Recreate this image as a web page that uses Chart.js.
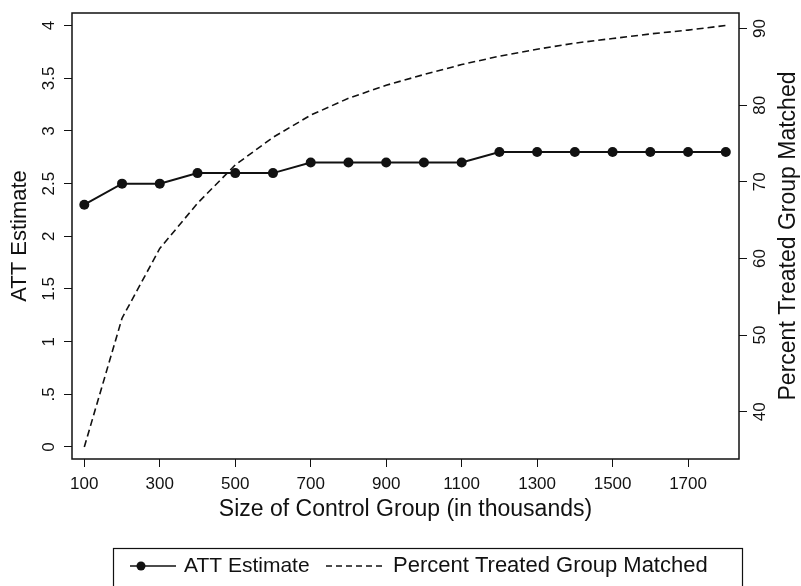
<!DOCTYPE html>
<html>
<head>
<meta charset="utf-8">
<script src="https://cdn.jsdelivr.net/npm/chart.js@4"></script>
<style>
  html, body { margin: 0; padding: 0; background: #fff; }
  canvas { display: block; }
</style>
</head>
<body>
<canvas id="canvas" width="801" height="586"></canvas>
<script>
// control group size in thousands
const sizes = [100, 200, 300, 400, 500, 600, 700, 800, 900, 1000, 1100, 1200, 1300, 1400, 1500, 1600, 1700, 1800];
const attEstimate = [2.3, 2.5, 2.5, 2.6, 2.6, 2.6, 2.7, 2.7, 2.7, 2.7, 2.7, 2.8, 2.8, 2.8, 2.8, 2.8, 2.8, 2.8];
const pctMatched = [35.4, 52.2, 61.3, 67.2, 72.2, 75.8, 78.7, 80.9, 82.6, 84.0, 85.3, 86.4, 87.3, 88.1, 88.7, 89.3, 89.8, 90.4];

const xTicks = [100, 300, 500, 700, 900, 1100, 1300, 1500, 1700];
const attTicks = [0, 0.5, 1, 1.5, 2, 2.5, 3, 3.5, 4];
const attTickLabels = ['0', '.5', '1', '1.5', '2', '2.5', '3', '3.5', '4'];
const pctTicks = [40, 50, 60, 70, 80, 90];

const labels = ['ATT Estimate', 'Percent Treated Group Matched'];
const titles = {
  x: 'Size of Control Group (in thousands)',
  y: 'ATT Estimate',
  y1: 'Percent Treated Group Matched'
};

const FONT = '"Liberation Sans", Arial, sans-serif';
const INK = '#111';

function setTicks(list) {
  return function (axis) { axis.ticks = list.map(v => ({ value: v })); };
}

const stataPlugin = {
  id: 'stata',
  afterDraw(chart) {
    const ctx = chart.ctx;
    const a = chart.chartArea;
    const y = chart.scales.y, y1 = chart.scales.y1;
    ctx.save();
    ctx.strokeStyle = INK;
    ctx.lineWidth = 1.5;
    ctx.strokeRect(a.left, a.top, a.right - a.left, a.bottom - a.top);

    // rotated tick labels
    ctx.fillStyle = INK;
    ctx.font = '17px ' + FONT;
    ctx.textAlign = 'center';
    ctx.textBaseline = 'middle';
    attTicks.forEach((v, i) => {
      const py = y.getPixelForValue(v);
      ctx.save();
      ctx.translate(49, py);
      ctx.rotate(-Math.PI / 2);
      ctx.fillText(attTickLabels[i], 0, 0);
      ctx.restore();
    });
    pctTicks.forEach(v => {
      const py = y1.getPixelForValue(v);
      ctx.save();
      ctx.translate(760, py);
      ctx.rotate(-Math.PI / 2);
      ctx.fillText(String(v), 0, 0);
      ctx.restore();
    });

    // axis titles
    ctx.font = '22px ' + FONT;
    const midY = (a.top + a.bottom) / 2;
    ctx.save();
    ctx.translate(20, midY);
    ctx.rotate(-Math.PI / 2);
    ctx.fillText(titles.y, 0, 0);
    ctx.restore();
    ctx.font = '23px ' + FONT;
    ctx.save();
    ctx.translate(789, midY);
    ctx.rotate(-Math.PI / 2);
    ctx.fillText(titles.y1, 0, 0);
    ctx.restore();
    ctx.fillText(titles.x, (a.left + a.right) / 2, 510);

    // legend box
    ctx.lineWidth = 1.2;
    ctx.strokeRect(113.5, 548.5, 629, 50);
    const ly = 566;
    ctx.lineWidth = 1.5;
    ctx.beginPath();
    ctx.moveTo(130, ly); ctx.lineTo(176, ly);
    ctx.stroke();
    ctx.beginPath();
    ctx.arc(141, ly, 4.5, 0, Math.PI * 2);
    ctx.fill();
    ctx.setLineDash([6, 4]);
    ctx.beginPath();
    ctx.moveTo(326, ly); ctx.lineTo(384, ly);
    ctx.stroke();
    ctx.setLineDash([]);
    ctx.textAlign = 'left';
    ctx.font = '21px ' + FONT;
    ctx.fillText(labels[0], 184, ly);
    ctx.font = '22px ' + FONT;
    ctx.fillText(labels[1], 393, ly);
    ctx.restore();
  }
};

new Chart(document.getElementById('canvas'), {
  type: 'line',
  data: {
    datasets: [{
      label: labels[0],
      data: sizes.map((s, i) => ({ x: s, y: attEstimate[i] })),
      yAxisID: 'y',
      borderColor: INK,
      backgroundColor: INK,
      borderWidth: 2,
      pointRadius: 5,
      pointBackgroundColor: INK,
      pointBorderWidth: 0,
      tension: 0
    }, {
      label: labels[1],
      data: sizes.map((s, i) => ({ x: s, y: pctMatched[i] })),
      yAxisID: 'y1',
      borderColor: INK,
      borderWidth: 1.6,
      borderDash: [7, 4],
      pointRadius: 0,
      tension: 0
    }]
  },
  options: {
    responsive: false,
    animation: false,
    devicePixelRatio: 1,
    layout: { padding: { top: 13, left: 0, right: 0, bottom: 0 } },
    plugins: { legend: { display: false }, tooltip: { enabled: false } },
    scales: {
      x: {
        type: 'linear',
        min: 67.4,
        max: 1835,
        afterBuildTicks: setTicks(xTicks),
        afterFit(axis) { axis.height = 127; },
        grid: { drawOnChartArea: false, tickLength: 8, color: INK, tickColor: INK },
        border: { display: false },
        ticks: {
          color: INK,
          font: { family: FONT, size: 17 },
          padding: 7,
          maxRotation: 0,
          autoSkip: false,
          callback: v => String(v)
        }
      },
      y: {
        position: 'left',
        min: -0.114,
        max: 4.12,
        afterBuildTicks: setTicks(attTicks),
        afterFit(axis) { axis.width = 72; },
        grid: { drawOnChartArea: false, tickLength: 8, tickColor: INK },
        border: { display: false },
        ticks: { display: false }
      },
      y1: {
        position: 'right',
        min: 33.83,
        max: 92.03,
        afterBuildTicks: setTicks(pctTicks),
        afterFit(axis) { axis.width = 62; },
        grid: { drawOnChartArea: false, tickLength: 8, tickColor: INK },
        border: { display: false },
        ticks: { display: false }
      }
    }
  },
  plugins: [stataPlugin]
});
</script>
</body>
</html>
